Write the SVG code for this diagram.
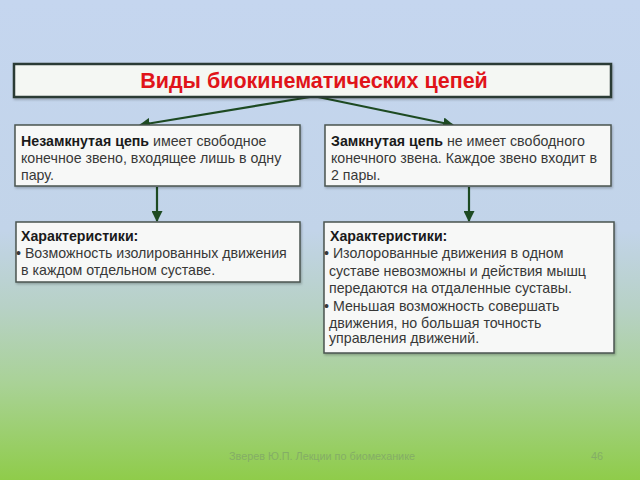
<svg xmlns="http://www.w3.org/2000/svg" width="640" height="480" viewBox="0 0 640 480">
<defs>
<linearGradient id="bg" x1="0" y1="0" x2="0" y2="1">
<stop offset="0" stop-color="#c5d6ef"/>
<stop offset="0.48" stop-color="#c2d4e9"/>
<stop offset="0.64" stop-color="#b7d1c6"/>
<stop offset="0.8" stop-color="#a9d296"/>
<stop offset="1" stop-color="#8fcc4a"/>
</linearGradient>
<marker id="ah" viewBox="0 0 10 10" refX="9" refY="5" markerWidth="5" markerHeight="5" orient="auto">
<path d="M0,0 L10,5 L0,10 z" fill="#1d4a22"/>
</marker>
<filter id="sh" x="-5%" y="-5%" width="110%" height="120%">
<feDropShadow dx="1" dy="1.5" stdDeviation="1" flood-color="#000" flood-opacity="0.25"/>
</filter>
</defs>
<style>
.box{fill:#f7f8f7;stroke:#4a5450;stroke-width:1.5;filter:url(#sh)}
.tbox{fill:#f4f7f3;stroke:#2c3a35;stroke-width:2.5;filter:url(#sh)}
.t{font-family:"Liberation Sans",Arial,sans-serif;font-size:14.2px;fill:#383838}
.b{font-weight:bold;fill:#1a1a1a}
.title{font-family:"Liberation Sans",Arial,sans-serif;font-size:21.5px;font-weight:bold;fill:#e0141a}
.c{stroke:#1d4a22;stroke-width:2.2;fill:none;marker-end:url(#ah)}
.f{font-family:"Liberation Sans",Arial,sans-serif;font-size:10.8px;fill:#84ad66}
</style>
<rect width="640" height="480" fill="url(#bg)"/>
<g id="connectors">
<line class="c" x1="310" y1="97" x2="140" y2="125"/>
<line class="c" x1="318" y1="97" x2="453" y2="125"/>
<line class="c" x1="157" y1="187" x2="157" y2="221"/>
<line class="c" x1="469" y1="187" x2="469" y2="221"/>
</g>
<g id="title">
<rect class="tbox" x="14" y="64" width="597" height="33"/>
<text class="title" x="314" y="88" text-anchor="middle">Виды биокинематических цепей</text>
</g>
<g id="open-chain">
<rect class="box" x="15" y="125" width="285" height="61"/>
<text class="t" x="21" y="146"><tspan class="b">Незамкнутая цепь</tspan> имеет свободное</text>
<text class="t" x="21" y="163">конечное звено, входящее лишь в одну</text>
<text class="t" x="21" y="180">пару.</text>
</g>
<g id="closed-chain">
<rect class="box" x="325" y="125" width="286" height="61"/>
<text class="t" x="331" y="146"><tspan class="b">Замкнутая цепь</tspan> не имеет свободного</text>
<text class="t" x="331" y="163">конечного звена. Каждое звено входит в</text>
<text class="t" x="331" y="180">2 пары.</text>
</g>
<g id="open-chars">
<rect class="box" x="16" y="222" width="284" height="60"/>
<text class="t b" x="21" y="241">Характеристики:</text>
<text class="t" x="16" y="258">• Возможность изолированных движения</text>
<text class="t" x="21" y="275">в каждом отдельном суставе.</text>
</g>
<g id="closed-chars">
<rect class="box" x="324" y="222" width="290" height="131"/>
<text class="t b" x="330" y="241">Характеристики:</text>
<text class="t" x="324" y="258">• Изолорованные движения в одном</text>
<text class="t" x="329" y="275.5">суставе невозможны и действия мышц</text>
<text class="t" x="329" y="293">передаются на отдаленные суставы.</text>
<text class="t" x="324" y="310.5">• Меньшая возможность совершать</text>
<text class="t" x="329" y="328">движения, но большая точность</text>
<text class="t" x="329" y="343">управления движений.</text>
</g>
<g id="footer">
<text class="f" x="229" y="460">Зверев Ю.П. Лекции по биомеханике</text>
<text class="f" x="591" y="460">46</text>
</g>
</svg>
